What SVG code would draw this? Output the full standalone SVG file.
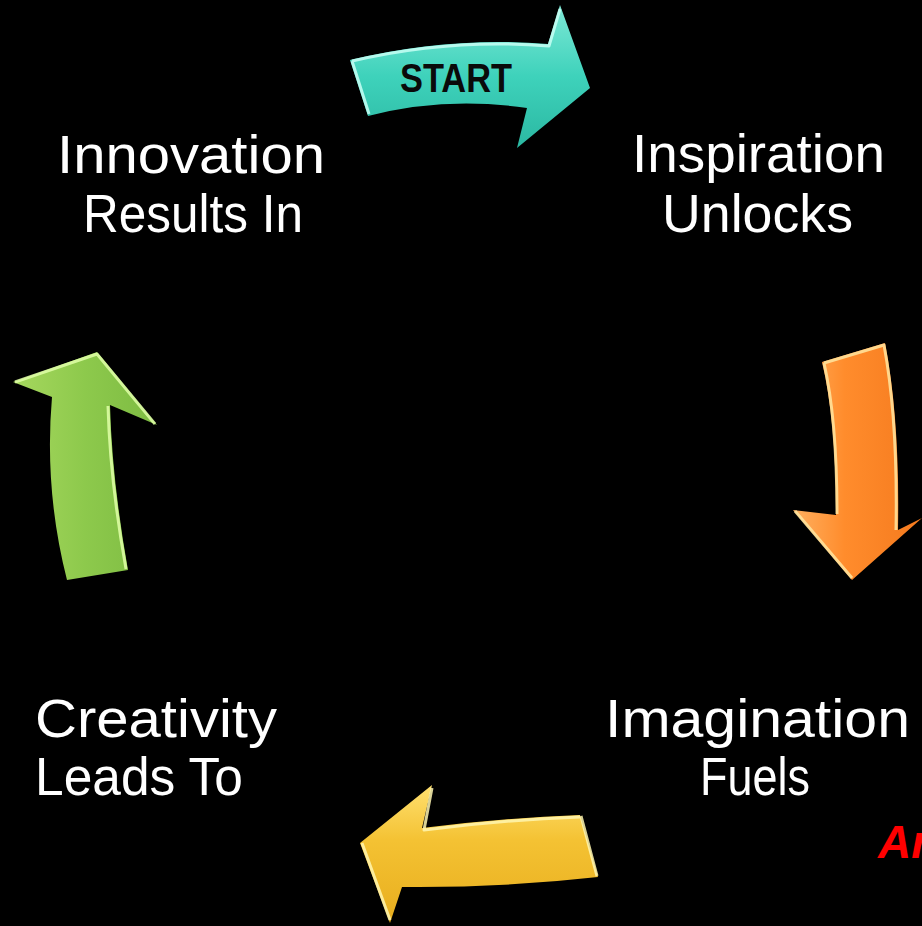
<svg xmlns="http://www.w3.org/2000/svg" width="922" height="926" viewBox="0 0 922 926">
<style>
  .lbl { font-family: "Liberation Sans", Arial, sans-serif; font-size: 54px; fill: #ffffff; }
  .hl { fill: none; stroke-width: 3; stroke-linejoin: round; opacity: 0.85; }
  .start { font-family: "Liberation Sans", Arial, sans-serif; font-weight: bold; font-size: 40px; fill: #0a0a0a; }
  .red { font-family: "Liberation Sans", Arial, sans-serif; font-weight: bold; font-style: italic; font-size: 46px; fill: #ff0000; }
</style>
<defs>
  <linearGradient id="gTeal" x1="0" y1="0" x2="0" y2="1">
    <stop offset="0" stop-color="#7EE8D6"/>
    <stop offset="0.5" stop-color="#3ED2BB"/>
    <stop offset="1" stop-color="#2BB8A2"/>
  </linearGradient>
  <linearGradient id="gOrange" x1="0" y1="0" x2="1" y2="0">
    <stop offset="0" stop-color="#FFB060"/>
    <stop offset="0.4" stop-color="#FF8C2C"/>
    <stop offset="1" stop-color="#F57A1E"/>
  </linearGradient>
  <linearGradient id="gYellow" x1="0" y1="0" x2="0" y2="1">
    <stop offset="0" stop-color="#FFE070"/>
    <stop offset="0.4" stop-color="#F4C233"/>
    <stop offset="1" stop-color="#E8AE1E"/>
  </linearGradient>
  <linearGradient id="gGreen" x1="0" y1="0" x2="1" y2="0">
    <stop offset="0" stop-color="#A6D85E"/>
    <stop offset="0.5" stop-color="#8DC94C"/>
    <stop offset="1" stop-color="#7DBB42"/>
  </linearGradient>
</defs>
<rect width="922" height="926" fill="#000000"/>

<g id="connectors">
  <g id="arrow-start">
    <path d="M350,60 Q450,36 548,44 L560,5 L590,88 L517,148 L527,108 Q445,96 368,116 Z" fill="url(#gTeal)"/>
    <path class="hl" stroke="#C8FFF4" d="M352,61 Q450,38 549,46 L560,9 M352,61 L369,114"/>
  </g>
  <g id="arrow-orange">
    <path d="M822,362 L885,343 Q900,420 898,530 L922,518 L852,580 L793,510 L836,515 Q836,420 822,362 Z" fill="url(#gOrange)"/>
    <path class="hl" stroke="#FFE6A0" d="M824,363 L884,345 Q898,420 896,530 M795,511 L852,578 M824,363 Q837,420 837,514"/>
  </g>
  <g id="arrow-yellow">
    <path d="M580,815 Q500,818 422,828 L432,785 L360,843 L390,923 L402,887 Q500,888 598,877 Z" fill="url(#gYellow)"/>
    <path class="hl" stroke="#FFF6B0" d="M580,817 Q500,820 424,830 L432,788 M362,843 L390,920 M581,816 L597,876"/>
  </g>
  <g id="arrow-green">
    <path d="M67,580 L128,570 Q112,480 110,405 L157,425 L97,352 L13,382 L52,397 Q44,490 67,580 Z" fill="url(#gGreen)"/>
    <path class="hl" stroke="#E0FFA8" d="M15,382 L97,354 L155,424 M108,406 Q110,480 126,569"/>
  </g>
</g>

<g id="node-start">
  <text class="start" x="400" y="92" textLength="112" lengthAdjust="spacingAndGlyphs">START</text>
</g>
<g id="node-innovation">
  <text class="lbl" x="57" y="173" textLength="268" lengthAdjust="spacingAndGlyphs">Innovation</text>
  <text class="lbl" x="83" y="232" textLength="220" lengthAdjust="spacingAndGlyphs">Results In</text>
</g>
<g id="node-inspiration">
  <text class="lbl" x="632" y="172" textLength="253" lengthAdjust="spacingAndGlyphs">Inspiration</text>
  <text class="lbl" x="662" y="232" textLength="191" lengthAdjust="spacingAndGlyphs">Unlocks</text>
</g>
<g id="node-creativity">
  <text class="lbl" x="35" y="737" textLength="242" lengthAdjust="spacingAndGlyphs">Creativity</text>
  <text class="lbl" x="35" y="795" textLength="208" lengthAdjust="spacingAndGlyphs">Leads To</text>
</g>
<g id="node-imagination">
  <text class="lbl" x="605" y="737" textLength="305" lengthAdjust="spacingAndGlyphs">Imagination</text>
  <text class="lbl" x="700" y="795" textLength="110" lengthAdjust="spacingAndGlyphs">Fuels</text>
</g>
<g id="node-red">
  <text class="red" x="878" y="858">Ar</text>
</g>
</svg>
